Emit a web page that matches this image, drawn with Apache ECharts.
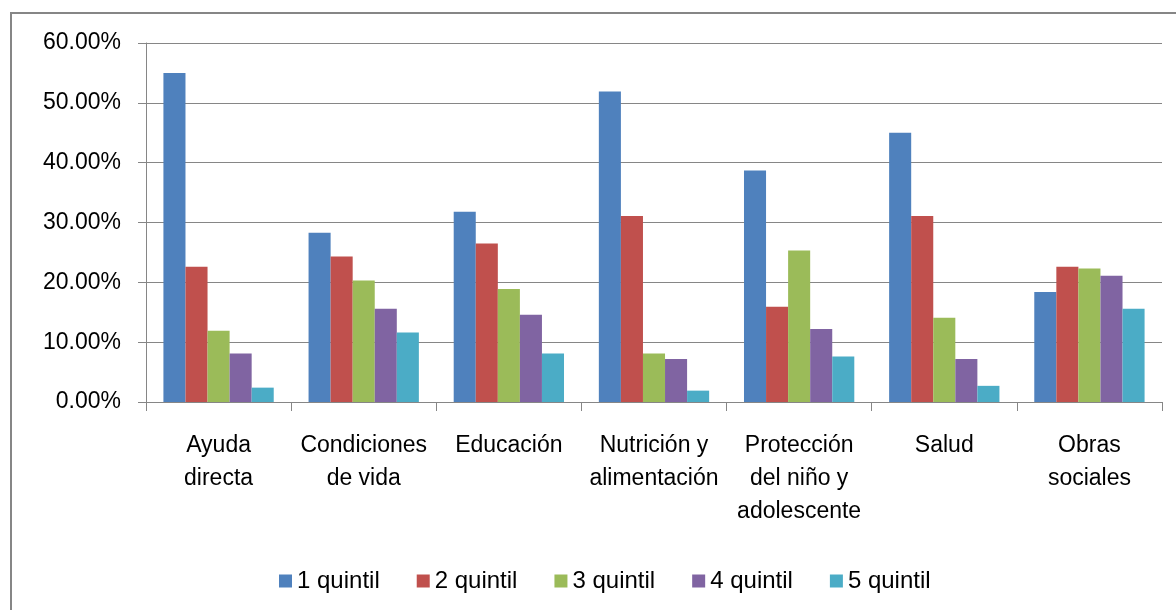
<!DOCTYPE html>
<html>
<head>
<meta charset="utf-8">
<script src="https://cdn.jsdelivr.net/npm/echarts@6/dist/echarts.min.js"></script>
<style>
  html, body { margin: 0; padding: 0; background: #fff; }
  #chart { width: 1176px; height: 610px; }
</style>
</head>
<body>
<div id="chart"></div>
<script>
  // categorías del eje X
  var categorias = ['Ayuda\ndirecta', 'Condiciones\nde vida', 'Educación', 'Nutrición y\nalimentación',
    'Protección\ndel niño y\nadolescente', 'Salud', 'Obras\nsociales'];
  var yTicks = [0, 10, 20, 30, 40, 50, 60];
  // valores por quintil (%)
  var quintil1 = [55.0, 28.3, 31.8, 51.9, 38.7, 45.0, 18.4];
  var quintil2 = [22.6, 24.3, 26.5, 31.1, 15.9, 31.1, 22.6];
  var quintil3 = [11.9, 20.3, 18.9, 8.1, 25.3, 14.1, 22.3];
  var quintil4 = [8.1, 15.6, 14.6, 7.2, 12.2, 7.2, 21.1];
  var quintil5 = [2.4, 11.6, 8.1, 1.9, 7.6, 2.7, 15.6];
  var nombres = ['1 quintil', '2 quintil', '3 quintil', '4 quintil', '5 quintil'];
  var colores = ['#4F81BD', '#C0504D', '#9BBB59', '#8064A2', '#4BACC6'];

  var font = '"Liberation Sans", Arial, sans-serif';
  var datos = [quintil1, quintil2, quintil3, quintil4, quintil5];

  var chart = echarts.init(document.getElementById('chart'));
  var option = {
    animation: false,
    color: colores,
    textStyle: { fontFamily: font },
    graphic: [{
      type: 'rect',
      shape: { x: 11, y: 13, width: 1180, height: 620 },
      style: { fill: 'none', stroke: '#868686', lineWidth: 2 },
      silent: true
    }],
    grid: { left: 146, right: 14, top: 43, bottom: 208 },
    legend: {
      left: 274,
      top: 564,
      icon: 'rect',
      itemWidth: 13,
      itemHeight: 13,
      itemGap: 37,
      textStyle: { fontFamily: font, fontSize: 24, color: '#000' },
      data: nombres
    },
    xAxis: {
      type: 'category',
      data: categorias,
      axisLine: { lineStyle: { color: '#868686', width: 1 } },
      axisTick: { show: true, length: 9, lineStyle: { color: '#868686' } },
      axisLabel: {
        interval: 0,
        margin: 27,
        color: '#000',
        fontFamily: font,
        fontSize: 23,
        lineHeight: 33
      }
    },
    yAxis: {
      type: 'value',
      min: yTicks[0],
      max: yTicks[yTicks.length - 1],
      interval: 10,
      axisLine: { show: true, lineStyle: { color: '#868686', width: 1 } },
      axisTick: { show: true, length: 8, lineStyle: { color: '#868686' } },
      splitLine: { lineStyle: { color: '#868686', width: 1 } },
      axisLabel: {
        margin: 25,
        color: '#000',
        fontFamily: font,
        fontSize: 23,
        formatter: function (v) { return v.toFixed(2) + '%'; }
      }
    },
    series: nombres.map(function (n, i) {
      return {
        name: n,
        type: 'bar',
        data: datos[i],
        barGap: '0%',
        barCategoryGap: '24%'
      };
    })
  };
  chart.setOption(option);
</script>
</body>
</html>
